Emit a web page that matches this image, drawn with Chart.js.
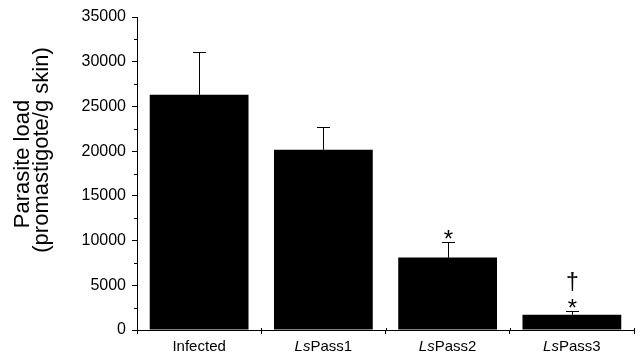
<!DOCTYPE html>
<html>
<head>
<meta charset="utf-8">
<script src="https://cdn.jsdelivr.net/npm/chart.js@4.4.1/dist/chart.umd.min.js"></script>
<style>
  html, body { margin: 0; padding: 0; background: #fff; }
  #wrap { width: 637px; height: 358px; }
</style>
</head>
<body>
<div id="wrap"><canvas id="myChart" width="637" height="358"></canvas></div>
<script>
// data
const groups = ['Infected', 'LsPass1', 'LsPass2', 'LsPass3'];
const parasiteLoad = [26300, 20150, 8100, 1700];
const loadError = [4800, 2550, 1780, 420];
const markers = ['', '', '*', '*\u2020'];
const yTicks = [0, 5000, 10000, 15000, 20000, 25000, 30000, 35000];
const yTitle = ['Parasite load', '(promastigote/g skin)'];

const FONT = "'Liberation Sans', Arial, sans-serif";

// draw a glyph so that its ink is centred on (cx, cy)
function glyphAt(ctx, text, cx, cy) {
    const m = ctx.measureText(text);
    ctx.fillText(text, cx, cy + (m.actualBoundingBoxAscent - m.actualBoundingBoxDescent) / 2);
}

// error bars, significance marks, minor ticks, axis title and the mixed-style x labels
const extras = {
    id: 'extras',
    afterDatasetsDraw(chart) {
        const ctx = chart.ctx;
        const x = chart.scales.x, y = chart.scales.y;
        ctx.save();
        ctx.strokeStyle = '#000';
        ctx.fillStyle = '#000';
        ctx.lineWidth = 1;

        parasiteLoad.forEach((v, i) => {
            const cx = Math.round(x.getPixelForValue(i)) + 0.5;
            const y0 = y.getPixelForValue(v);
            const y1 = Math.round(y.getPixelForValue(v + loadError[i])) + 0.5;
            ctx.beginPath();
            ctx.moveTo(cx, y0);
            ctx.lineTo(cx, y1);
            ctx.moveTo(cx - 6.5, y1);
            ctx.lineTo(cx + 6.5, y1);
            ctx.stroke();

            // significance marks stacked above the error bar
            const m = markers[i];
            ctx.textAlign = 'center';
            ctx.textBaseline = 'alphabetic';
            if (m.includes('*')) {
                ctx.font = '24px ' + FONT;
                glyphAt(ctx, '*', cx, y1 - 8.5);
            }
            if (m.includes('\u2020')) {
                ctx.font = '23px ' + FONT;
                glyphAt(ctx, '\u2020', cx, y1 - 30.5);
            }
        });

        // minor ticks on the y axis
        for (let v = 2500; v < 35000; v += 5000) {
            const py = Math.round(y.getPixelForValue(v)) + 0.5;
            ctx.beginPath();
            ctx.moveTo(y.right - 3, py);
            ctx.lineTo(y.right, py);
            ctx.stroke();
        }

        // x axis tick marks poke a little above the axis line too
        for (let i = 0; i <= groups.length; i++) {
            const px = Math.round(x.left + i * (x.right - x.left) / groups.length) + 0.5;
            ctx.beginPath();
            ctx.moveTo(px, x.top - 2);
            ctx.lineTo(px, x.top);
            ctx.stroke();
        }

        // y axis title, two rotated lines
        ctx.font = '22px ' + FONT;
        ctx.textAlign = 'center';
        ctx.textBaseline = 'middle';
        [[23, 164], [42, 150]].forEach((p, k) => {
            ctx.save();
            ctx.translate(p[0], p[1]);
            ctx.rotate(-Math.PI / 2);
            ctx.fillText(yTitle[k], 0, 0);
            ctx.restore();
        });

        // x labels with italic "Ls"
        const ly = 347;
        groups.forEach((g, i) => {
            const cx = x.getPixelForValue(i);
            const parts = g.startsWith('Ls') ? [['Ls', 'italic '], [g.slice(2), '']] : [[g, '']];
            let total = 0;
            parts.forEach(p => { ctx.font = p[1] + '15px ' + FONT; total += ctx.measureText(p[0]).width; });
            let px = cx - total / 2;
            ctx.textAlign = 'left';
            parts.forEach(p => {
                ctx.font = p[1] + '15px ' + FONT;
                ctx.fillText(p[0], px, ly);
                px += ctx.measureText(p[0]).width;
            });
        });
        ctx.restore();
    }
};

new Chart(document.getElementById('myChart'), {
    type: 'bar',
    data: {
        labels: groups,
        datasets: [{
            data: parasiteLoad,
            backgroundColor: '#000',
            borderWidth: 0,
            categoryPercentage: 1,
            barPercentage: 0.795
        }]
    },
    options: {
        responsive: false,
        animation: false,
        layout: { padding: { top: 17, right: 3, left: 0, bottom: 0 } },
        plugins: { legend: { display: false }, tooltip: { enabled: false } },
        scales: {
            x: {
                grid: { offset: true, drawOnChartArea: false, drawTicks: true, tickLength: 4, color: '#000' },
                border: { display: true, color: '#000', width: 1 },
                ticks: { color: 'transparent', font: { size: 15, family: FONT } },
                afterFit(scale) { scale.height = 28; }
            },
            y: {
                min: 0,
                max: 35000,
                afterBuildTicks(scale) { scale.ticks = yTicks.map(v => ({ value: v })); },
                grid: { drawOnChartArea: false, drawTicks: true, tickLength: 5, color: '#000' },
                border: { display: true, color: '#000', width: 1 },
                ticks: {
                    color: '#000',
                    padding: 6,
                    font: { size: 16, family: FONT },
                    callback: (v) => String(v)
                },
                afterFit(scale) { scale.width = 137; }
            }
        }
    },
    plugins: [extras]
});
</script>
</body>
</html>
